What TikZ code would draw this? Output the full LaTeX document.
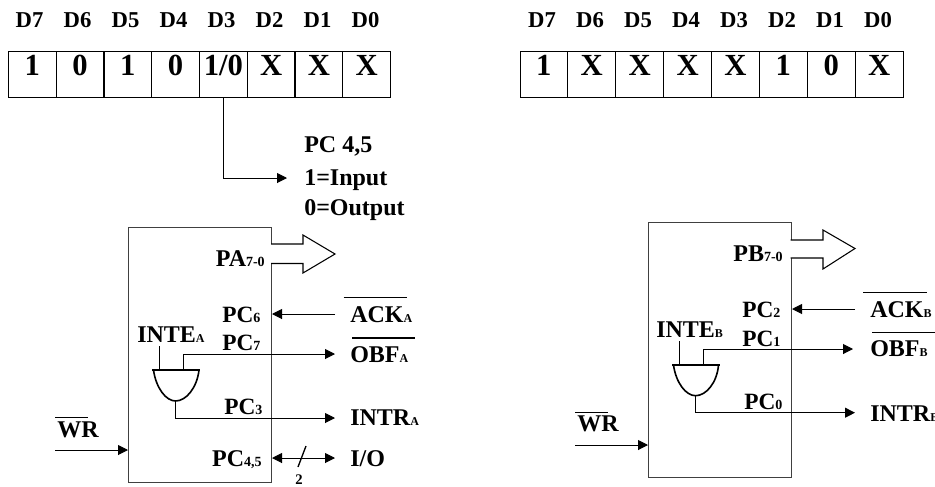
\documentclass[tikz,border=0pt]{standalone}
\usepackage{fontspec}
\setmainfont{Liberation Serif}[BoldFont={Liberation Serif Bold}]
\usetikzlibrary{arrows.meta}
\newcommand{\lowsub}[1]{{\fontsize{9}{9}\selectfont #1}}
\newcommand{\pcsub}[1]{{\fontsize{10.5}{10.5}\selectfont #1}}
\tikzset{
  x=0.75pt,y=-0.75pt,
  lbl/.style={inner sep=0pt,anchor=base west,font=\fontsize{18}{18}\selectfont\bfseries},
  lblr/.style={inner sep=0pt,anchor=base east,font=\fontsize{18}{18}\selectfont\bfseries},
  lbll/.style={inner sep=0pt,anchor=base west,font=\fontsize{17.5}{18}\selectfont\bfseries},
  bit/.style={inner sep=0pt,anchor=base,font=\fontsize{17}{18}\selectfont\bfseries},
  cell/.style={draw=black,line width=0.8pt,inner sep=0pt,minimum width=35.8pt,text width=35.8pt,align=center,text height=18.4pt,text depth=16.5pt,anchor=north west,font=\fontsize{23}{24}\selectfont\bfseries},
  block/.style={draw=black!75,line width=1pt,inner sep=0pt,anchor=north west},
  wire/.style={draw=black,line width=0.75pt},
  arr/.style={wire,-{Triangle[length=7.5pt,width=7.5pt]}},
  barr/.style={wire,{Triangle[length=7.5pt,width=7.5pt]}-{Triangle[length=7.5pt,width=7.5pt]}},
  ov/.style={draw=black,line width=0.8pt},
  bus/.style={draw=black,line width=0.8pt,fill=white,line join=miter},
  gate/.style={draw=black,line width=1.2pt},
  gatetop/.style={draw=black,line width=1.6pt}
}
\begin{document}
\begin{tikzpicture}
\useasboundingbox (0,0) rectangle (935,486);
\clip (0,0) rectangle (935,486);
% Headers
\foreach \t [count=\i from 0] in {D7,D6,D5,D4,D3,D2,D1,D0}{
  \node[bit] (la\i) at ({29.5+48*\i},27.3) {\t};
  \node[bit] (ra\i) at ({542+48*\i},27.3) {\t};
}
\foreach \t [count=\i from 0] in {1,0,1,0,1/0,X,X,X}{
  \node[cell] (lc\i) at ({8+47.75*\i},50.5) {\t};
}
\foreach \t [count=\i from 0] in {1,X,X,X,X,1,0,X}{
  \node[cell] (rc\i) at ({519.5+47.9*\i},50.5) {\t};
}
% mode note
\coordinate (m1) at (223,178);
\node[lbl] (n1) at (304,152.7) {PC 4,5};
\node[lbl] (n2) at (304,185) {1=Input};
\node[lbl] (n3) at (304,215) {0=Output};
\coordinate (n2w) at (287,178);
\draw[arr] (223,97) -- (m1) -- (n2w);

% Left block
\node[block,minimum width=107.2pt,minimum height=191.4pt] (bA) at (128,226.5) {};
\draw[bus] (271,244) -- (303,244) -- (303,235) -- (335,254) -- (303,273) -- (303,263.5) -- (271,263.5);
\node[lblr] (pa) at (265,266) {PA\pcsub{7-0}};
\node[lbll] (pc6) at (222,322) {PC\pcsub{6}};
\node[lbl] (ackA) at (350,322) {ACK\lowsub{A}};
\draw[ov] (343.5,297.7) -- (407,297.7);
\coordinate (ackAe) at (335,314);
\coordinate (ackAi) at (272,314);
\draw[arr] (ackAe) -- (ackAi);
\node[lbl] (inteA) at (137,342) {INTE\lowsub{A}};
\node[lbll] (pc7) at (222,350) {PC\pcsub{7}};
\node[lbl] (obfA) at (350,362) {OBF\lowsub{A}};
\draw[ov] (352,338) -- (415,338);
\coordinate (gA1) at (159,369.5);
\coordinate (gA2) at (183,369.5);
\coordinate (gAo) at (175.5,401);
\draw[wire] (159,346) -- (gA1);
\draw[arr] (gA2) -- (183,354) -- (335,354);
\draw[gate] (153.5,370) .. controls (156,388) and (166,401) .. (gAo) .. controls (186,401) and (197,388) .. (199,370);
\draw[gatetop] (152,370) -- (200,370);
\draw[arr] (gAo) -- (175.5,418) -- (335,418);
\node[lbll] (pc3) at (224,414) {PC\pcsub{3}};
\node[lbl] (intrA) at (350,425.7) {INTR\lowsub{A}};
\node[lbl] (wrA) at (57,437) {WR};
\draw[ov] (55,417.7) -- (88,417.7);
\draw[arr] (55,450) -- (bA.west |- 0,450);
\node[lblr] (pc45) at (262,466) {PC\pcsub{4,5}};
\node[lbl] (io) at (350,466) {I/O};
\coordinate (ioi) at (272,458);
\coordinate (ioe) at (335,458);
\draw[barr] (ioi) -- (ioe);
\draw[wire,line width=1pt] (298,467) -- (306,446);
\node[inner sep=0pt,anchor=base,font=\fontsize{11}{11}\selectfont\bfseries] (two) at (299,484) {2};

% Right block
\node[block,minimum width=107.2pt,minimum height=191.2pt] (bB) at (648,222) {};
\draw[bus] (790.7,240) -- (823,240) -- (823,230) -- (855,248.5) -- (823,269) -- (823,258) -- (790.7,258);
\node[lblr] (pb) at (783,261) {PB\pcsub{7-0}};
\node[lbll] (pc2) at (742,317) {PC\pcsub{2}};
\node[lbl] (ackB) at (870,317) {ACK\lowsub{B}};
\draw[ov] (863,292.7) -- (927,292.7);
\coordinate (ackBe) at (855,309);
\coordinate (ackBi) at (792,309);
\draw[arr] (ackBe) -- (ackBi);
\node[lbl] (inteB) at (656,337.7) {INTE\lowsub{B}};
\node[lbll] (pc1) at (742,346) {PC\pcsub{1}};
\node[lbl] (obfB) at (870,356.7) {OBF\lowsub{B}};
\draw[ov] (872,332.7) -- (935,332.7);
\coordinate (gB1) at (679,364.5);
\coordinate (gB2) at (703,364.5);
\coordinate (gBo) at (695.5,395.7);
\draw[wire] (679,341) -- (gB1);
\draw[arr] (gB2) -- (703,349) -- (853,349);
\draw[gate] (673.5,365) .. controls (676,383) and (686,395.7) .. (gBo) .. controls (706,395.7) and (717,383) .. (718.5,365);
\draw[gatetop] (672,365) -- (720,365);
\draw[arr] (gBo) -- (695.5,412.7) -- (855,412.7);
\node[lbll] (pc0) at (744,409) {PC\pcsub{0}};
\node[lbl] (intrB) at (870,421) {INTR\lowsub{B}};
\node[lbl] (wrB) at (577,431.7) {WR};
\draw[ov] (575,412.7) -- (608,412.7);
\draw[arr] (575,445) -- (bB.west |- 0,445);
\end{tikzpicture}
\end{document}
